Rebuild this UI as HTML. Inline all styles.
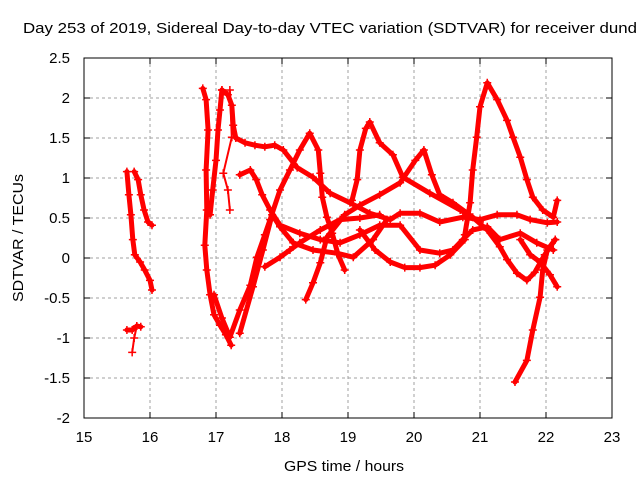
<!DOCTYPE html>
<html><head><meta charset="utf-8"><style>
body{margin:0;background:#fff}
svg{display:block;font-family:"Liberation Sans",sans-serif}
</style></head><body>
<svg id="chart" width="640" height="480">
<text x="330" y="33" font-size="15" text-anchor="middle" textLength="614" lengthAdjust="spacingAndGlyphs">Day 253 of 2019, Sidereal Day-to-day VTEC variation (SDTVAR) for receiver dund</text>
<text x="344" y="471" font-size="15" text-anchor="middle" textLength="120" lengthAdjust="spacingAndGlyphs">GPS time / hours</text>
<text transform="translate(23,238) rotate(-90)" font-size="15" text-anchor="middle" textLength="128" lengthAdjust="spacingAndGlyphs">SDTVAR / TECUs</text>
<g id="grid"></g><g id="ticks"></g><g id="marks"></g>
<rect x="84" y="58" width="528" height="360" fill="none" stroke="#000" stroke-width="1"/>
</svg>
<script>
const xTicks=[15,16,17,18,19,20,21,22,23];
const yTicks=[2.5,2,1.5,1,0.5,0,-0.5,-1,-1.5,-2];
const yTickLabels=["2.5","2","1.5","1","0.5","0","-0.5","-1","-1.5","-2"];
const trackA1=[[15.65,1.08],[15.68,0.79],[15.71,0.54],[15.74,0.23],[15.77,0.04],[15.85,-0.05],[15.92,-0.15],[16.0,-0.28],[16.03,-0.4]];
const trackA2=[[15.76,1.08],[15.82,0.98],[15.86,0.79],[15.91,0.6],[15.97,0.45],[16.03,0.41]];
const trackA3=[[15.65,-0.9],[15.73,-0.9],[15.8,-0.85],[15.86,-0.86]];
const trackA4=[[15.8,-0.85],[15.76,-1.0],[15.73,-1.18]];
const trackB1=[[16.8,2.12],[16.85,1.98],[16.88,1.6],[16.85,1.1],[16.86,0.6],[16.83,0.16],[16.86,-0.15],[16.91,-0.46],[16.97,-0.71],[17.06,-0.84],[17.15,-0.96],[17.23,-1.09]];
const trackB2=[[16.91,0.54],[16.95,0.85],[17.0,1.22],[17.03,1.6],[17.06,1.85],[17.09,2.1]];
const trackB3=[[17.09,2.1],[17.18,2.04],[17.24,1.91],[17.26,1.66],[17.3,1.5],[17.44,1.44],[17.59,1.41],[17.74,1.39],[17.89,1.41],[18.02,1.35],[18.23,1.13],[18.47,1.01],[18.73,0.81],[19.03,0.69],[19.33,0.56],[19.64,0.48],[19.79,0.56],[20.09,0.56],[20.39,0.45],[20.74,0.51],[21.0,0.48],[21.26,0.54],[21.56,0.54],[21.76,0.48],[22.02,0.44],[22.17,0.45]];
const trackB3b=[[17.21,2.1],[17.24,1.51],[17.11,1.06],[17.18,0.85],[17.21,0.6]];
const trackB4=[[16.97,-0.46],[17.09,-0.75],[17.21,-0.99],[17.36,-0.65],[17.52,-0.34],[17.62,0.01],[17.74,0.29],[17.82,0.48],[17.97,0.85],[18.12,1.1],[18.27,1.35],[18.42,1.56],[18.55,1.35],[18.58,1.06],[18.61,0.76],[18.68,0.51],[18.76,0.31],[18.85,0.04],[18.95,-0.15]];
const trackB5=[[17.36,-0.94],[17.56,-0.36],[17.71,0.1],[17.85,0.54],[17.97,0.39],[18.17,0.19],[18.47,0.1],[18.83,0.06],[19.08,0.01],[19.38,0.23],[19.59,0.48]];
const trackB6=[[17.36,1.04],[17.52,1.1],[17.61,0.98],[17.7,0.79],[17.82,0.6],[17.97,0.41],[18.27,0.31],[18.58,0.23],[18.88,0.19],[19.18,0.29],[19.48,0.41],[19.79,0.41],[20.09,0.1],[20.39,0.06],[20.59,0.1],[20.74,0.23],[20.89,0.35],[21.11,0.39],[21.3,0.23],[21.61,0.31],[21.86,0.19],[22.11,0.1]];
const trackB7=[[17.74,-0.11],[17.97,0.01],[18.12,0.1],[18.27,0.19],[18.58,0.35],[18.88,0.48],[19.18,0.5],[19.48,0.54]];
const trackB8=[[18.36,-0.52],[18.47,-0.31],[18.58,-0.06],[18.68,0.26],[18.95,0.54],[19.18,0.66],[19.48,0.79],[19.79,0.94],[20.02,1.22],[20.15,1.35],[20.27,1.04],[20.39,0.79],[20.59,0.69],[20.89,0.51],[21.11,0.35],[21.3,0.14],[21.41,-0.02],[21.56,-0.19],[21.71,-0.28],[21.83,-0.18],[21.98,0.04],[22.14,0.23]];
const trackB9=[[19.06,0.72],[19.14,0.98],[19.18,1.35],[19.27,1.62],[19.33,1.7],[19.48,1.44],[19.68,1.29],[19.83,1.01],[20.24,0.81],[20.7,0.6],[21.0,0.45]];
const trackB10=[[19.18,0.35],[19.41,0.1],[19.64,-0.05],[19.86,-0.12],[20.09,-0.12],[20.32,-0.09],[20.55,0.04],[20.77,0.23]];
const trackC1=[[20.77,0.29],[20.85,0.69],[20.89,1.1],[20.95,1.51],[21.0,1.89],[21.11,2.19],[21.26,1.98],[21.41,1.72],[21.5,1.51],[21.61,1.26],[21.71,0.98],[21.8,0.76],[21.95,0.6],[22.11,0.51],[22.17,0.72]];
const trackC2=[[21.53,-1.55],[21.71,-1.28],[21.8,-0.9],[21.91,-0.49],[21.95,-0.15],[22.02,0.1],[22.14,0.23]];
const trackC3=[[21.61,0.23],[21.76,0.04],[21.91,-0.05],[22.06,-0.21],[22.17,-0.36]];
const tracks=[trackA1,trackA2,trackA3,trackA4,trackB1,trackB2,trackB3,trackB3b,trackB4,trackB5,trackB6,trackB7,trackB8,trackB9,trackB10,trackC1,trackC2,trackC3];
const sparse=[trackB3b,trackA4];

const X0=84,X1=612,Y0=418,Y1=58;
const xs=h=>X0+(h-15)/(23-15)*(X1-X0);
const ys=v=>Y0-(v+2)/(2.5+2)*(Y0-Y1);
const NS="http://www.w3.org/2000/svg";
const grid=document.getElementById('grid'),ticks=document.getElementById('ticks'),marks=document.getElementById('marks');
function mk(tag,attrs,parent){const e=document.createElementNS(NS,tag);for(const k in attrs)e.setAttribute(k,attrs[k]);parent.appendChild(e);return e;}
xTicks.forEach((t,i)=>{
  const x=xs(t);
  if(i>0&&i<xTicks.length-1){const g=mk('line',{x1:x,x2:x,y1:Y1,y2:Y0,stroke:'#a0a0a0','stroke-dasharray':'3,3'},grid);
  
  }
  mk('line',{x1:x,x2:x,y1:Y0,y2:Y0-6,stroke:'#000'},ticks);
  mk('line',{x1:x,x2:x,y1:Y1,y2:Y1+6,stroke:'#000'},ticks);
  const l=mk('text',{x:x,y:Y0+24,'font-size':15,'text-anchor':'middle'},ticks);l.textContent=t;
  
  
});
yTicks.forEach((t,i)=>{
  const y=ys(t);
  if(i>0&&i<yTicks.length-1){const g=mk('line',{x1:X0,x2:X1,y1:y,y2:y,stroke:'#a0a0a0','stroke-dasharray':'3,3'},grid);
  
  }
  mk('line',{x1:X0,x2:X0+6,y1:y,y2:y,stroke:'#000'},ticks);
  mk('line',{x1:X1,x2:X1-6,y1:y,y2:y,stroke:'#000'},ticks);
  const l=mk('text',{x:X0-14,y:y+5,'font-size':15,'text-anchor':'end'},ticks);l.textContent=yTickLabels[i];
  
  
});
tracks.forEach((tr,ti)=>{
  const g=mk('g',{},marks);
  
  
  const thin=sparse.includes(tr);
  const pts=tr.map(p=>xs(p[0]).toFixed(1)+','+ys(p[1]).toFixed(1)).join(' ');
  mk('polyline',{points:pts,fill:'none',stroke:'#f00','stroke-width':thin?2:5,'stroke-linejoin':'round','stroke-linecap':'round'},g);
  tr.forEach(p=>{
    const x=xs(p[0]),y=ys(p[1]);
    const m=mk('path',{d:`M${x-4},${y}H${x+4}M${x},${y-4}V${y+4}`,stroke:'#f00','stroke-width':1.5},g);
    
    
  });
});
</script>
</body></html>
